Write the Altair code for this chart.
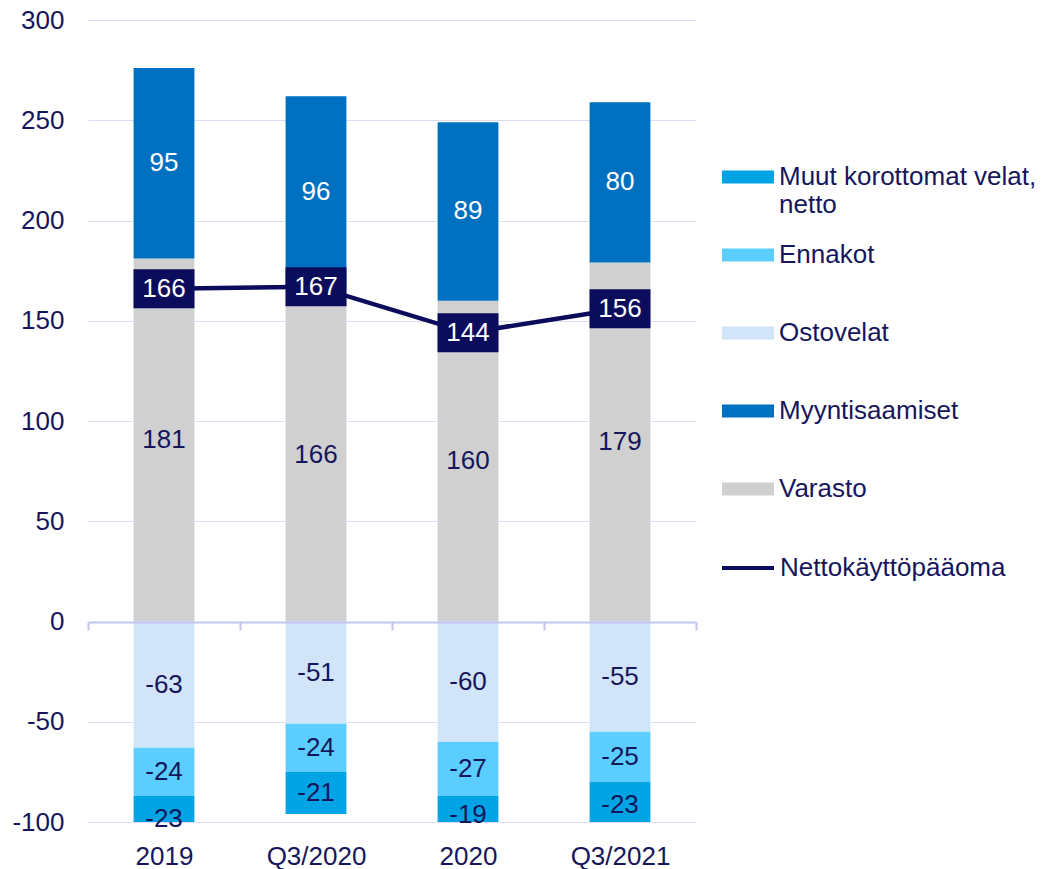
import altair as alt
import pandas as pd

categories = ["2019", "Q3/2020", "2020", "Q3/2021"]
varasto = [181, 166, 160, 179]
myyntisaamiset = [95, 96, 89, 80]
ostovelat = [-63, -51, -60, -55]
ennakot = [-24, -24, -27, -25]
muut = [-23, -21, -19, -23]
netto = [166, 167, 144, 156]

series_names = ["Varasto", "Myyntisaamiset", "Ostovelat", "Ennakot", "Muut korottomat velat, netto"]
series_values = [varasto, myyntisaamiset, ostovelat, ennakot, muut]
legend_order = ["Muut korottomat velat, netto", "Ennakot", "Ostovelat", "Myyntisaamiset", "Varasto"]
legend_colors = ["#00A3E4", "#5BCEFF", "#D2E4F8", "#0070C0", "#D0D0D0"]
line_name = "Nettokäyttöpääoma"

NAVY = "#0C0C5C"
TEXT = "#16165C"
GRID = "#DCDCF8"
DOMAIN = "#C4C4F4"
FONT = "Liberation Sans"

rows = []
for si, (name, vals) in enumerate(zip(series_names, series_values)):
    for c, v in zip(categories, vals):
        rows.append({"cat": c, "series": name, "value": v, "ord": si,
                     "tc": "white" if name == "Myyntisaamiset" else TEXT})
bars_df = pd.DataFrame(rows)
line_df = pd.DataFrame({"cat": categories, "netto": netto, "s": [line_name] * len(categories)})

xscale = alt.Scale(domain=categories, paddingInner=0, paddingOuter=0)
yscale = alt.Scale(domain=[-100, 300], nice=False, zero=False)
xax = alt.Axis(title=None, orient="bottom", offset=-200, domain=True, domainColor=DOMAIN,
               domainWidth=2, ticks=True, tickColor=DOMAIN, tickWidth=2, tickSize=8,
               tickBand="extent", labelPadding=213, labelAngle=0, labelFontSize=26,
               labelColor=TEXT, labelFont=FONT, grid=False, zindex=1)
yax = alt.Axis(title=None, values=list(range(-100, 301, 50)), domain=False, ticks=False,
               grid=True, gridColor=GRID, gridWidth=1.2, labelFontSize=26, labelColor=TEXT,
               labelFont=FONT, labelPadding=24, labelExpr="toString(datum.value)")

base = alt.Chart(bars_df).transform_stack(
    stack="value", groupby=["cat"], as_=["y0", "y1"],
    sort=[alt.SortField("ord", order="ascending")], offset="zero"
).transform_calculate(mid="(datum.y0 + datum.y1) / 2", lbl="toString(datum.value)")

bars = base.mark_bar(clip=True, width=alt.RelativeBandSize(0.4)).encode(
    x=alt.X("cat:N", scale=xscale, axis=xax, sort=categories),
    y=alt.Y("y0:Q", scale=yscale, axis=yax),
    y2="y1:Q",
    color=alt.Color("series:N", scale=alt.Scale(domain=legend_order, range=legend_colors),
                    legend=alt.Legend(orient="none", legendX=616, legendY=122, title=None,
                                      symbolType="M-0.486,-0.186H1V0.186H-0.486Z",
                                      symbolSize=4900, symbolStrokeWidth=0, symbolOpacity=1,
                                      labelFontSize=26, labelColor=TEXT, labelFont=FONT,
                                      labelOffset=5, rowPadding=2, labelLimit=400, padding=0,
                                      labelExpr="datum.label == 'Muut korottomat velat, netto' ? ['Muut korottomat velat,', 'netto'] : [datum.label, '']")),
)

bar_text = base.mark_text(fontSize=26, font=FONT, baseline="middle", align="center").encode(
    x=alt.X("cat:N", scale=xscale, axis=xax, sort=categories),
    y=alt.Y("mid:Q", scale=yscale, axis=yax),
    text=alt.Text("lbl:N"),
    color=alt.Color("tc:N", scale=None),
)

line = alt.Chart(line_df).mark_line(strokeWidth=4.5).encode(
    x=alt.X("cat:N", scale=xscale, axis=xax, sort=categories),
    y=alt.Y("netto:Q", scale=yscale, axis=yax),
    stroke=alt.Stroke("s:N", scale=alt.Scale(domain=[line_name], range=[NAVY]),
                      legend=alt.Legend(orient="none", legendX=632, legendY=520, title=None,
                                        symbolType="stroke", symbolSize=2704, symbolStrokeWidth=4,
                                        labelFontSize=26, labelColor=TEXT, labelFont=FONT,
                                        labelOffset=4, labelLimit=400, padding=0)),
)

boxes = alt.Chart(line_df).mark_tick(thickness=39, size=61, color=NAVY, opacity=1).encode(
    x=alt.X("cat:N", scale=xscale, axis=xax, sort=categories),
    y=alt.Y("netto:Q", scale=yscale, axis=yax),
)

box_text = alt.Chart(line_df).mark_text(fontSize=26, font=FONT, color="white",
                                        baseline="middle", align="center").encode(
    x=alt.X("cat:N", scale=xscale, axis=xax, sort=categories),
    y=alt.Y("netto:Q", scale=yscale, axis=yax),
    text=alt.Text("netto:Q"),
)

chart = alt.layer(bars, bar_text, line, boxes, box_text).properties(
    width=608, height=802,
    autosize=alt.AutoSizeParams(type="none"),
    padding={"left": 88, "top": 20, "right": 352, "bottom": 47},
).configure(font=FONT).configure_view(stroke=None)

chart.save("out.html", embed_options={"renderer": "svg", "actions": False})
